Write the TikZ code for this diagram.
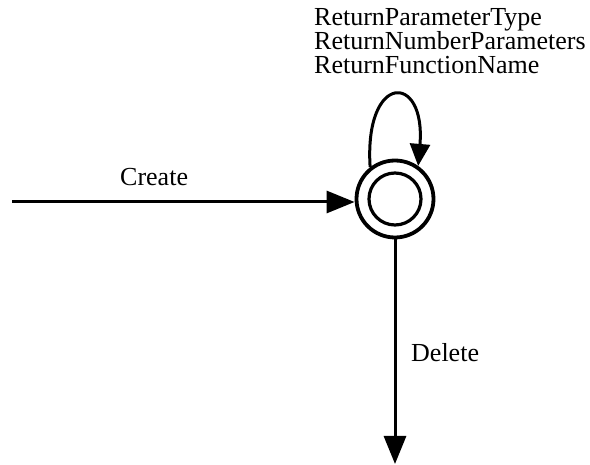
\documentclass[tikz,border=0pt]{standalone}
\usepackage{fontspec}
\setmainfont{Liberation Serif}
\usetikzlibrary{arrows.meta}
\begin{document}
\begin{tikzpicture}[x=1pt,y=-1pt,
  edge/.style={line width=3pt,-{Triangle[length=28pt,width=22pt]}},
  loopedge/.style={line width=3pt,-{Triangle[length=22pt,width=20pt]}},
  lbl/.style={font=\fontsize{26}{24}\selectfont,inner sep=0pt},
  ]
\useasboundingbox (0,0) rectangle (590,465);
% final state: double circle
\node[circle,draw,line width=3.8pt,minimum size=77pt,inner sep=0pt] (s) at (395,199) {};
\node[circle,draw,line width=3.2pt,minimum size=52pt,inner sep=0pt] (si) at (s.center) {};
% free ends of the entry and exit transitions
\coordinate (src) at (12,202);
\coordinate (sink) at (395,464);
% transitions
\draw[edge] (src) -- (src -| s.west);
\draw[edge] (s.south) -- (sink);
\draw[loopedge] (s.128) .. controls (364,72) and (426,72) .. (s.55);
% labels
\node[lbl,anchor=base west] (lcreate) at (120,186) {Create};
\node[lbl,anchor=base west] (ldelete) at (411,362) {Delete};
\node[lbl,anchor=north west,align=left] (lloop) at (314,8)
  {ReturnParameterType\\ReturnNumberParameters\\ReturnFunctionName};
\end{tikzpicture}
\end{document}
